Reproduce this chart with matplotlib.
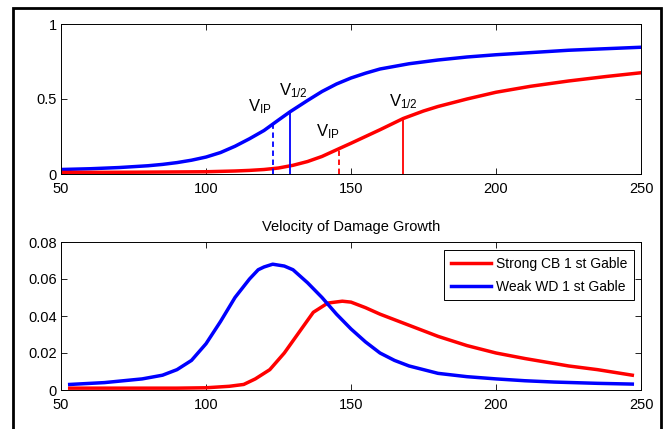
import matplotlib
matplotlib.use("Agg")
import matplotlib.pyplot as plt
from matplotlib.patches import Rectangle

plt.rcParams['font.family'] = ['Liberation Sans', 'DejaVu Sans']
plt.rcParams['mathtext.fontset'] = 'custom'
plt.rcParams['mathtext.rm'] = 'Liberation Sans'
plt.rcParams['mathtext.it'] = 'Liberation Sans:italic'
plt.rcParams['mathtext.bf'] = 'Liberation Sans:bold'

# Top panel: cumulative damage
v_top_blue = [50, 60, 70, 80, 85, 90, 95, 100, 105, 110, 115, 120, 125, 129, 135, 140, 145, 150, 155, 160, 170, 180, 190, 200, 225, 250]
p_top_blue = [0.03, 0.035, 0.043, 0.055, 0.064, 0.076, 0.092, 0.113, 0.143, 0.185, 0.235, 0.29, 0.36, 0.415, 0.49, 0.55, 0.60, 0.64, 0.672, 0.70, 0.735, 0.76, 0.78, 0.795, 0.825, 0.845]
v_top_red = [50, 75, 100, 110, 115, 120, 125, 130, 135, 140, 146, 150, 155, 160, 168, 175, 180, 190, 200, 212, 225, 238, 250]
p_top_red = [0.01, 0.012, 0.015, 0.02, 0.024, 0.03, 0.04, 0.058, 0.083, 0.117, 0.17, 0.205, 0.25, 0.295, 0.37, 0.42, 0.45, 0.50, 0.545, 0.585, 0.62, 0.65, 0.675]

# Markers: (velocity, height)
blue_vip, blue_vip_h = 123, 0.34
blue_vhalf, blue_vhalf_h = 129, 0.415
red_vip, red_vip_h = 146, 0.17
red_vhalf, red_vhalf_h = 168, 0.37

# Bottom panel: velocity of damage growth
v_bot_blue = [53, 65, 78, 85, 90, 95, 100, 105, 110, 115, 118, 120, 123, 127, 130, 135, 140, 145, 150, 155, 160, 165, 170, 180, 190, 200, 210, 220, 235, 247]
d_bot_blue = [0.003, 0.004, 0.006, 0.008, 0.011, 0.016, 0.025, 0.037, 0.050, 0.060, 0.065, 0.0665, 0.068, 0.067, 0.065, 0.058, 0.050, 0.041, 0.033, 0.026, 0.020, 0.016, 0.013, 0.009, 0.0072, 0.006, 0.005, 0.0043, 0.0036, 0.0032]
v_bot_red = [53, 90, 100, 108, 113, 117, 122, 127, 132, 137, 142, 147, 150, 155, 160, 170, 180, 190, 200, 210, 225, 235, 247]
d_bot_red = [0.001, 0.001, 0.0012, 0.002, 0.003, 0.006, 0.011, 0.020, 0.031, 0.042, 0.047, 0.048, 0.0475, 0.0445, 0.041, 0.035, 0.029, 0.024, 0.020, 0.017, 0.013, 0.011, 0.008]

labels = ['Strong CB 1 st Gable', 'Weak WD 1 st Gable']
title_bottom = 'Velocity of Damage Growth'

W, H = 668, 429
fig = plt.figure(figsize=(W/100, H/100), dpi=100)

def ax_rect(l, t, r, b):
    return [l/W, 1 - b/H, (r-l)/W, (b-t)/H]

ax1 = fig.add_axes(ax_rect(61, 24, 641, 174))
ax2 = fig.add_axes(ax_rect(61, 242, 641, 390))

for ax in (ax1, ax2):
    ax.set_xlim(50, 250)
    ax.set_xticks([50, 100, 150, 200, 250])
    ax.tick_params(direction='in', labelsize=10.5, length=4, width=0.6, top=True, right=True)
    ax.tick_params(axis='x', pad=6)
    ax.tick_params(axis='y', pad=3)
    for s in ax.spines.values():
        s.set_linewidth(0.7)

ax1.plot(v_top_blue, p_top_blue, color='#0000ff', lw=2.5)
ax1.plot(v_top_red, p_top_red, color='#ff0000', lw=2.5)
ax1.plot([blue_vip, blue_vip], [0, blue_vip_h], color='#0000ff', lw=1.3, ls=(0, (3, 2)))
ax1.plot([blue_vhalf, blue_vhalf], [0, blue_vhalf_h], color='#0000ff', lw=1.3)
ax1.plot([red_vip, red_vip], [0, red_vip_h], color='#ff0000', lw=1.3, ls=(0, (3, 2)))
ax1.plot([red_vhalf, red_vhalf], [0, red_vhalf_h], color='#ff0000', lw=1.3)
ax1.set_ylim(0, 1)
ax1.set_yticks([0, 0.5, 1])
ax1.set_yticklabels(['0', '0.5', '1'])

fs = 12
ax1.text(blue_vip - 0.5, blue_vip_h + 0.05, r'V$_{\mathrm{IP}}$', ha='right', va='bottom', fontsize=fs)
ax1.text(blue_vhalf + 1, blue_vhalf_h + 0.08, r'V$_{\mathrm{1/2}}$', ha='center', va='bottom', fontsize=fs)
ax1.text(red_vip, red_vip_h + 0.05, r'V$_{\mathrm{IP}}$', ha='right', va='bottom', fontsize=fs)
ax1.text(red_vhalf, red_vhalf_h + 0.05, r'V$_{\mathrm{1/2}}$', ha='center', va='bottom', fontsize=fs)

ax2.plot(v_bot_red, d_bot_red, color='#ff0000', lw=2.5, label=labels[0])
ax2.plot(v_bot_blue, d_bot_blue, color='#0000ff', lw=2.5, label=labels[1])
ax2.set_ylim(0, 0.08)
ax2.set_yticks([0, 0.02, 0.04, 0.06, 0.08])
ax2.set_yticklabels(['0', '0.02', '0.04', '0.06', '0.08'])
ax2.set_title(title_bottom, fontsize=10.5, pad=8)
leg = ax2.legend(loc='upper right', fontsize=10, fancybox=False, edgecolor='black',
                 framealpha=1, handlelength=2.9, borderpad=0.5, labelspacing=0.62,
                 handletextpad=0.35, borderaxespad=0, bbox_to_anchor=(0.988, 0.946))
leg.get_frame().set_linewidth(0.7)

fig.patches.append(Rectangle((13/W, -0.05), (661-13)/W, 1.05 - 8/H, transform=fig.transFigure,
                             fill=False, edgecolor='black', lw=2))

fig.savefig('out.png', dpi=100)
